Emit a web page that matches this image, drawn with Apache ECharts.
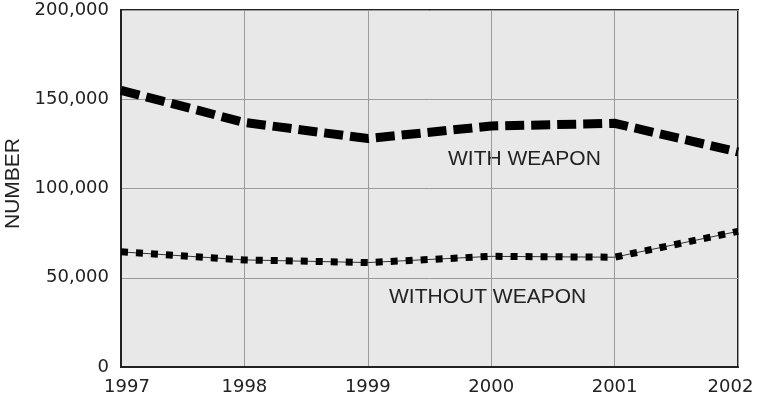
<!DOCTYPE html>
<html>
<head>
<meta charset="utf-8">
<script src="https://cdn.jsdelivr.net/npm/echarts@6/dist/echarts.min.js"></script>
<style>
  html, body { margin: 0; padding: 0; background: #fff; }
  #chart { width: 757px; height: 400px; }
</style>
</head>
<body>
<div id="chart"></div>
<script>
// years on the x axis
let years = ['1997', '1998', '1999', '2000', '2001', '2002'];
// values
let withWeapon = [155000, 137000, 128000, 135000, 136500, 120500];
let withoutWeapon = [64500, 60000, 58500, 62000, 61500, 76000];
let yTicks = [0, 50000, 100000, 150000, 200000];

let chart = echarts.init(document.getElementById('chart'));

let labelFont = { color: '#222', fontFamily: 'DejaVu Sans', fontSize: 18 };

let option = {
    animation: false,
    grid: {
        left: 121, right: 19, top: 10, bottom: 33,
        outerBoundsMode: 'none',
        containLabel: false,
        show: true,
        backgroundColor: '#e8e8e8',
        borderColor: '#222',
        borderWidth: 2
    },
    xAxis: {
        type: 'category',
        data: years,
        boundaryGap: false,
        axisLine: { lineStyle: { color: '#222', width: 2 } },
        axisTick: { show: false },
        axisLabel: {
            color: '#222', fontFamily: 'DejaVu Sans', fontSize: 18, margin: 11,
            interval: 0,
            showMinLabel: true, showMaxLabel: true,
            hideOverlap: false,
            // first and last year sit a little inside the plot
            formatter: function (v, i) {
                if (i === 0) return '{first|' + v + '}';
                if (i === years.length - 1) return '{last|' + v + '}';
                return v;
            },
            rich: {
                first: Object.assign({ padding: [0, 0, 0, 12] }, labelFont),
                last: Object.assign({ padding: [0, 15, 0, 0] }, labelFont)
            }
        },
        splitLine: { show: true, interval: 0, lineStyle: { color: '#9a9a9a', width: 1 } }
    },
    yAxis: {
        type: 'value',
        min: yTicks[0],
        max: yTicks[yTicks.length - 1],
        interval: 50000,
        name: 'NUMBER',
        nameLocation: 'middle',
        nameGap: 96,
        nameRotate: 90,
        nameTextStyle: { color: '#222', fontFamily: 'Liberation Sans', fontSize: 21, padding: [0, 0, 0, 10] },
        axisLine: { show: true, lineStyle: { color: '#222', width: 2 } },
        axisTick: { show: false },
        axisLabel: {
            color: '#222', fontFamily: 'DejaVu Sans', fontSize: 18, margin: 12,
            formatter: function (v) { return v.toLocaleString('en-US'); }
        },
        splitLine: { show: true, lineStyle: { color: '#9a9a9a', width: 1 } }
    },
    series: [
        {
            name: 'With weapon',
            type: 'line',
            data: withWeapon,
            symbol: 'none',
            lineStyle: { color: '#000', width: 9, type: [19, 7], cap: 'butt', join: 'miter' }
        },
        {
            name: 'Without weapon thin',
            type: 'line',
            data: withoutWeapon,
            symbol: 'none',
            lineStyle: { color: '#333', width: 1 }
        },
        {
            name: 'Without weapon',
            type: 'line',
            data: withoutWeapon,
            symbol: 'none',
            lineStyle: { color: '#000', width: 7, type: [7, 8], cap: 'butt', join: 'miter' }
        }
    ],
    graphic: [
        {
            type: 'text', left: 448, top: 149,
            style: { text: 'WITH WEAPON', fill: '#222', font: '21px "Liberation Sans"' }
        },
        {
            type: 'text', left: 389, top: 287,
            style: { text: 'WITHOUT WEAPON', fill: '#222', font: '21px "Liberation Sans"' }
        }
    ]
};

chart.setOption(option);
</script>
</body>
</html>
